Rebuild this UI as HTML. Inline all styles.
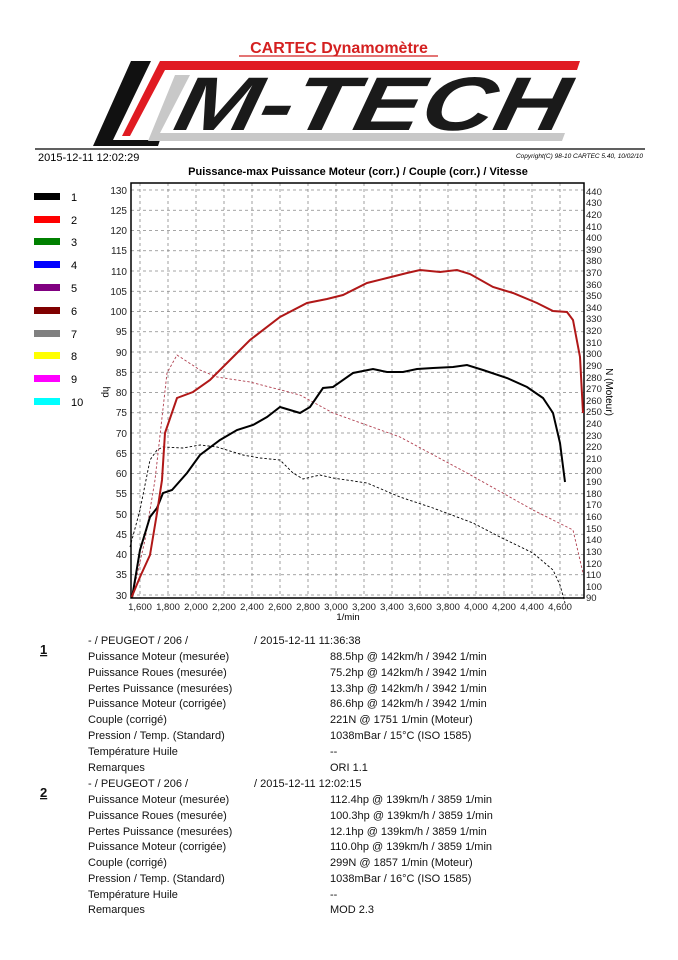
<!DOCTYPE html>
<html><head><meta charset="utf-8"><style>
body{margin:0;background:#fff;}
svg{display:block;font-family:"Liberation Sans",Arial,sans-serif;}
</style></head><body>
<svg width="678" height="960" viewBox="0 0 678 960" xmlns="http://www.w3.org/2000/svg">
<rect width="678" height="960" fill="#fff"/>
<text x="339" y="53" text-anchor="middle" font-size="16" font-weight="bold" fill="#d42020">CARTEC Dynamomètre</text>
<line x1="239" y1="56" x2="438" y2="56" stroke="#d42020" stroke-width="1.3"/>
<polygon points="131,61 151,61 113,140 160,140 158,146 93,146" fill="#111"/>
<polygon points="160,61 580,61 577,70 165,70 130,136 122,136" fill="#e01b22"/>
<polygon points="175,75 190,75 160,133 565,133 562,141 148,141" fill="#c8c8c8"/>
<text x="172" y="130" font-size="76" font-weight="bold" font-style="italic" fill="#1a1a1a" textLength="392" lengthAdjust="spacingAndGlyphs" transform="skewX(-12) translate(27,0)">M-TECH</text>
<line x1="35" y1="149" x2="645" y2="149" stroke="#000" stroke-width="1.2"/>
<text x="38" y="161" font-size="11">2015-12-11 12:02:29</text>
<text x="643" y="158" font-size="6.5" font-style="italic" text-anchor="end">Copyright(C) 98-10 CARTEC 5.40, 10/02/10</text>
<text x="358" y="175" font-size="11" font-weight="bold" text-anchor="middle">Puissance-max Puissance Moteur (corr.) / Couple (corr.) / Vitesse</text>
<g font-size="11">
<rect x="34" y="193" width="26" height="7" fill="#000"/><text x="71" y="201">1</text>
<rect x="34" y="216" width="26" height="7" fill="#f00"/><text x="71" y="224">2</text>
<rect x="34" y="238" width="26" height="7" fill="#008000"/><text x="71" y="246">3</text>
<rect x="34" y="261" width="26" height="7" fill="#0000ff"/><text x="71" y="269">4</text>
<rect x="34" y="284" width="26" height="7" fill="#800080"/><text x="71" y="292">5</text>
<rect x="34" y="307" width="26" height="7" fill="#800000"/><text x="71" y="315">6</text>
<rect x="34" y="330" width="26" height="7" fill="#808080"/><text x="71" y="338">7</text>
<rect x="34" y="352" width="26" height="7" fill="#ffff00"/><text x="71" y="360">8</text>
<rect x="34" y="375" width="26" height="7" fill="#ff00ff"/><text x="71" y="383">9</text>
<rect x="34" y="398" width="26" height="7" fill="#00ffff"/><text x="71" y="406">10</text>
</g>
<g stroke="#888" stroke-width="0.8" stroke-dasharray="3,3">
<line x1="131" x2="584" y1="190" y2="190"/><line x1="131" x2="584" y1="210.25" y2="210.25"/>
<line x1="131" x2="584" y1="230.5" y2="230.5"/><line x1="131" x2="584" y1="250.75" y2="250.75"/>
<line x1="131" x2="584" y1="271" y2="271"/><line x1="131" x2="584" y1="291.25" y2="291.25"/>
<line x1="131" x2="584" y1="311.5" y2="311.5"/><line x1="131" x2="584" y1="331.75" y2="331.75"/>
<line x1="131" x2="584" y1="352" y2="352"/><line x1="131" x2="584" y1="372.25" y2="372.25"/>
<line x1="131" x2="584" y1="392.5" y2="392.5"/><line x1="131" x2="584" y1="412.75" y2="412.75"/>
<line x1="131" x2="584" y1="433" y2="433"/><line x1="131" x2="584" y1="453.25" y2="453.25"/>
<line x1="131" x2="584" y1="473.5" y2="473.5"/><line x1="131" x2="584" y1="493.75" y2="493.75"/>
<line x1="131" x2="584" y1="514" y2="514"/><line x1="131" x2="584" y1="534.25" y2="534.25"/>
<line x1="131" x2="584" y1="554.5" y2="554.5"/><line x1="131" x2="584" y1="574.75" y2="574.75"/>
<line x1="131" x2="584" y1="595" y2="595"/>
<line y1="183" y2="598" x1="140" x2="140"/><line y1="183" y2="598" x1="168" x2="168"/>
<line y1="183" y2="598" x1="196" x2="196"/><line y1="183" y2="598" x1="224" x2="224"/>
<line y1="183" y2="598" x1="252" x2="252"/><line y1="183" y2="598" x1="280" x2="280"/>
<line y1="183" y2="598" x1="308" x2="308"/><line y1="183" y2="598" x1="336" x2="336"/>
<line y1="183" y2="598" x1="364" x2="364"/><line y1="183" y2="598" x1="392" x2="392"/>
<line y1="183" y2="598" x1="420" x2="420"/><line y1="183" y2="598" x1="448" x2="448"/>
<line y1="183" y2="598" x1="476" x2="476"/><line y1="183" y2="598" x1="504" x2="504"/>
<line y1="183" y2="598" x1="532" x2="532"/><line y1="183" y2="598" x1="560" x2="560"/>
</g>
<rect x="131" y="183" width="453" height="415" fill="none" stroke="#000" stroke-width="1.5"/>
<g font-size="10" text-anchor="end" fill="#222">
<text x="127" y="194">130</text><text x="127" y="214">125</text><text x="127" y="234">120</text>
<text x="127" y="254">115</text><text x="127" y="275">110</text><text x="127" y="295">105</text>
<text x="127" y="315">100</text><text x="127" y="335">95</text><text x="127" y="356">90</text>
<text x="127" y="376">85</text><text x="127" y="396">80</text><text x="127" y="416">75</text>
<text x="127" y="437">70</text><text x="127" y="457">65</text><text x="127" y="477">60</text>
<text x="127" y="497">55</text><text x="127" y="518">50</text><text x="127" y="538">45</text>
<text x="127" y="558">40</text><text x="127" y="578">35</text><text x="127" y="599">30</text>
</g>
<text transform="translate(103,392) rotate(90)" font-size="10" text-anchor="middle">hp</text>
<g font-size="9.5" fill="#222">
<text x="586" y="195">440</text><text x="586" y="206">430</text><text x="586" y="218">420</text>
<text x="586" y="230">410</text><text x="586" y="241">400</text><text x="586" y="253">390</text>
<text x="586" y="264">380</text><text x="586" y="276">370</text><text x="586" y="288">360</text>
<text x="586" y="299">350</text><text x="586" y="311">340</text><text x="586" y="322">330</text>
<text x="586" y="334">320</text><text x="586" y="346">310</text><text x="586" y="357">300</text>
<text x="586" y="369">290</text><text x="586" y="381">280</text><text x="586" y="392">270</text>
<text x="586" y="404">260</text><text x="586" y="415">250</text><text x="586" y="427">240</text>
<text x="586" y="439">230</text><text x="586" y="450">220</text><text x="586" y="462">210</text>
<text x="586" y="474">200</text><text x="586" y="485">190</text><text x="586" y="497">180</text>
<text x="586" y="508">170</text><text x="586" y="520">160</text><text x="586" y="532">150</text>
<text x="586" y="543">140</text><text x="586" y="555">130</text><text x="586" y="567">120</text>
<text x="586" y="578">110</text><text x="586" y="590">100</text><text x="586" y="601">90</text>
</g>
<text transform="translate(606,392) rotate(90)" font-size="10" text-anchor="middle">N (Moteur)</text>
<g font-size="9.5" text-anchor="middle" fill="#222">
<text x="140" y="610">1,600</text><text x="168" y="610">1,800</text><text x="196" y="610">2,000</text>
<text x="224" y="610">2,200</text><text x="252" y="610">2,400</text><text x="280" y="610">2,600</text>
<text x="308" y="610">2,800</text><text x="336" y="610">3,000</text><text x="364" y="610">3,200</text>
<text x="392" y="610">3,400</text><text x="420" y="610">3,600</text><text x="448" y="610">3,800</text>
<text x="476" y="610">4,000</text><text x="504" y="610">4,200</text><text x="532" y="610">4,400</text>
<text x="560" y="610">4,600</text>
</g>
<text x="348" y="620" font-size="9.5" text-anchor="middle">1/min</text>
<polyline fill="none" stroke="#000" stroke-width="0.9" stroke-dasharray="2.5,2" points="130,547 140,510 150,460 157,450 163,447 183,448 200,445 217,447 243,455 260,458 280,460 293,473 303,479 320,475 333,478 367,483 400,497 433,508 473,523 500,537 533,553 553,570 560,585 565,603"/>
<polyline fill="none" stroke="#b04050" stroke-width="0.9" stroke-dasharray="2.5,2" points="132,597 145,540 155,480 167,373 177,355 200,370 217,377 250,382 300,395 333,413 400,437 467,473 533,510 573,530 583,573"/>
<polyline fill="none" stroke="#000" stroke-width="2" points="132,598 140,550 150,517 157,508 163,493 172,490 187,473 200,455 220,440 237,430 253,425 267,417 280,407 290,410 300,413 310,407 323,388 333,387 353,373 373,369 387,372 403,372 417,369 433,368 453,367 467,365 483,370 507,378 527,387 543,398 553,413 560,443 565,482"/>
<polyline fill="none" stroke="#b01818" stroke-width="2" points="131.7,597 140,577 150,555 157,513 162,480 165,433 177,398 193,392 210,380 233,357 250,340 280,317 307,303 327,299 343,295 367,283 387,278 407,273 420,270 440,272 457,270 470,274 493,287 513,293 537,303 553,311 567,312 573,320 580,357 583,413"/>
<g font-size="11" fill="#111">
<text x="40" y="654" font-weight="bold" font-size="13" text-decoration="underline">1</text>
<text x="88" y="644">- / PEUGEOT / 206 /</text><text x="254" y="644">/ 2015-12-11 11:36:38</text>
<text x="88" y="660">Puissance Moteur (mesurée)</text><text x="330" y="660">88.5hp @ 142km/h / 3942 1/min</text>
<text x="88" y="676">Puissance Roues (mesurée)</text><text x="330" y="676">75.2hp @ 142km/h / 3942 1/min</text>
<text x="88" y="692">Pertes Puissance (mesurées)</text><text x="330" y="692">13.3hp @ 142km/h / 3942 1/min</text>
<text x="88" y="707">Puissance Moteur (corrigée)</text><text x="330" y="707">86.6hp @ 142km/h / 3942 1/min</text>
<text x="88" y="723">Couple (corrigé)</text><text x="330" y="723">221N @ 1751 1/min (Moteur)</text>
<text x="88" y="739">Pression / Temp. (Standard)</text><text x="330" y="739">1038mBar / 15°C   (ISO 1585)</text>
<text x="88" y="755">Température Huile</text><text x="330" y="755">--</text>
<text x="88" y="771">Remarques</text><text x="330" y="771">ORI 1.1</text>
<text x="40" y="797" font-weight="bold" font-size="13" text-decoration="underline">2</text>
<text x="88" y="787">- / PEUGEOT / 206 /</text><text x="254" y="787">/ 2015-12-11 12:02:15</text>
<text x="88" y="803">Puissance Moteur (mesurée)</text><text x="330" y="803">112.4hp @ 139km/h / 3859 1/min</text>
<text x="88" y="819">Puissance Roues (mesurée)</text><text x="330" y="819">100.3hp @ 139km/h / 3859 1/min</text>
<text x="88" y="835">Pertes Puissance (mesurées)</text><text x="330" y="835">12.1hp @ 139km/h / 3859 1/min</text>
<text x="88" y="850">Puissance Moteur (corrigée)</text><text x="330" y="850">110.0hp @ 139km/h / 3859 1/min</text>
<text x="88" y="866">Couple (corrigé)</text><text x="330" y="866">299N @ 1857 1/min (Moteur)</text>
<text x="88" y="882">Pression / Temp. (Standard)</text><text x="330" y="882">1038mBar / 16°C   (ISO 1585)</text>
<text x="88" y="898">Température Huile</text><text x="330" y="898">--</text>
<text x="88" y="913">Remarques</text><text x="330" y="913">MOD 2.3</text>
</g>
</svg>
</body></html>
